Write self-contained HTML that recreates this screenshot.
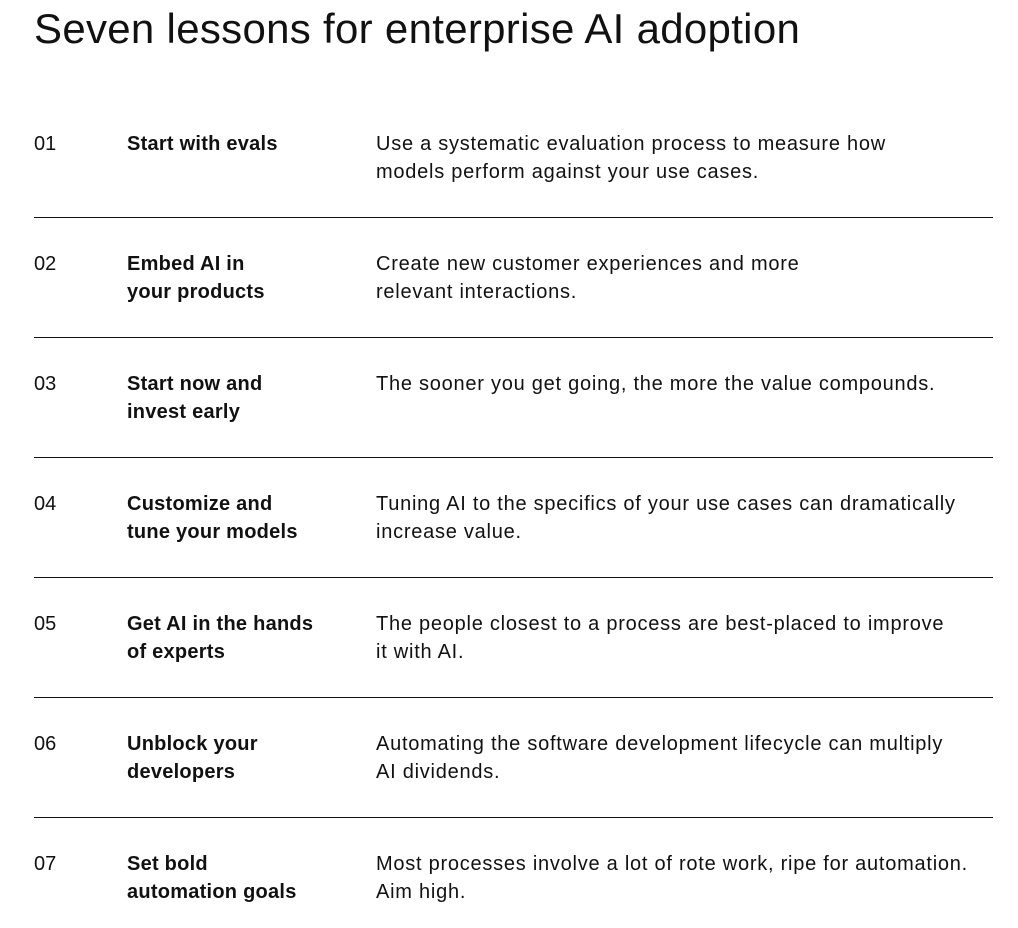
<!DOCTYPE html>
<html><head><meta charset="utf-8"><style>
body{margin:0;width:1018px;height:928px;background:#fff;font-family:"Liberation Sans",sans-serif;color:#111;position:relative;overflow:hidden}
h1{position:absolute;left:34px;top:4px;margin:0;font-weight:normal;font-size:42px;letter-spacing:0.3px;line-height:50px}
.r{position:absolute;left:0;width:1018px;font-size:20px;line-height:28px}
.n{position:absolute;left:34px}
.t{position:absolute;left:127px;font-weight:bold;width:245px;letter-spacing:0.25px}
.d{position:absolute;left:376px;width:640px;letter-spacing:0.75px}
.l{position:absolute;left:34px;width:959px;height:1px;background:#111}
</style></head><body>
<h1>Seven lessons for enterprise AI adoption</h1>
<div class="r" style="top:130px"><span class="n">01</span><span class="t">Start with evals</span><span class="d">Use a systematic evaluation process to measure how<br>models perform against your use cases.</span></div>
<div class="l" style="top:217px"></div>
<div class="r" style="top:250px"><span class="n">02</span><span class="t">Embed AI in<br>your products</span><span class="d">Create new customer experiences and more<br>relevant interactions.</span></div>
<div class="l" style="top:337px"></div>
<div class="r" style="top:370px"><span class="n">03</span><span class="t">Start now and<br>invest early</span><span class="d">The sooner you get going, the more the value compounds.</span></div>
<div class="l" style="top:457px"></div>
<div class="r" style="top:490px"><span class="n">04</span><span class="t">Customize and<br>tune your models</span><span class="d">Tuning AI to the specifics of your use cases can dramatically<br>increase value.</span></div>
<div class="l" style="top:577px"></div>
<div class="r" style="top:610px"><span class="n">05</span><span class="t">Get AI in the hands<br>of experts</span><span class="d">The people closest to a process are best-placed to improve<br>it with AI.</span></div>
<div class="l" style="top:697px"></div>
<div class="r" style="top:730px"><span class="n">06</span><span class="t">Unblock your<br>developers</span><span class="d">Automating the software development lifecycle can multiply<br>AI dividends.</span></div>
<div class="l" style="top:817px"></div>
<div class="r" style="top:850px"><span class="n">07</span><span class="t">Set bold<br>automation goals</span><span class="d">Most processes involve a lot of rote work, ripe for automation.<br>Aim high.</span></div>
</body></html>
